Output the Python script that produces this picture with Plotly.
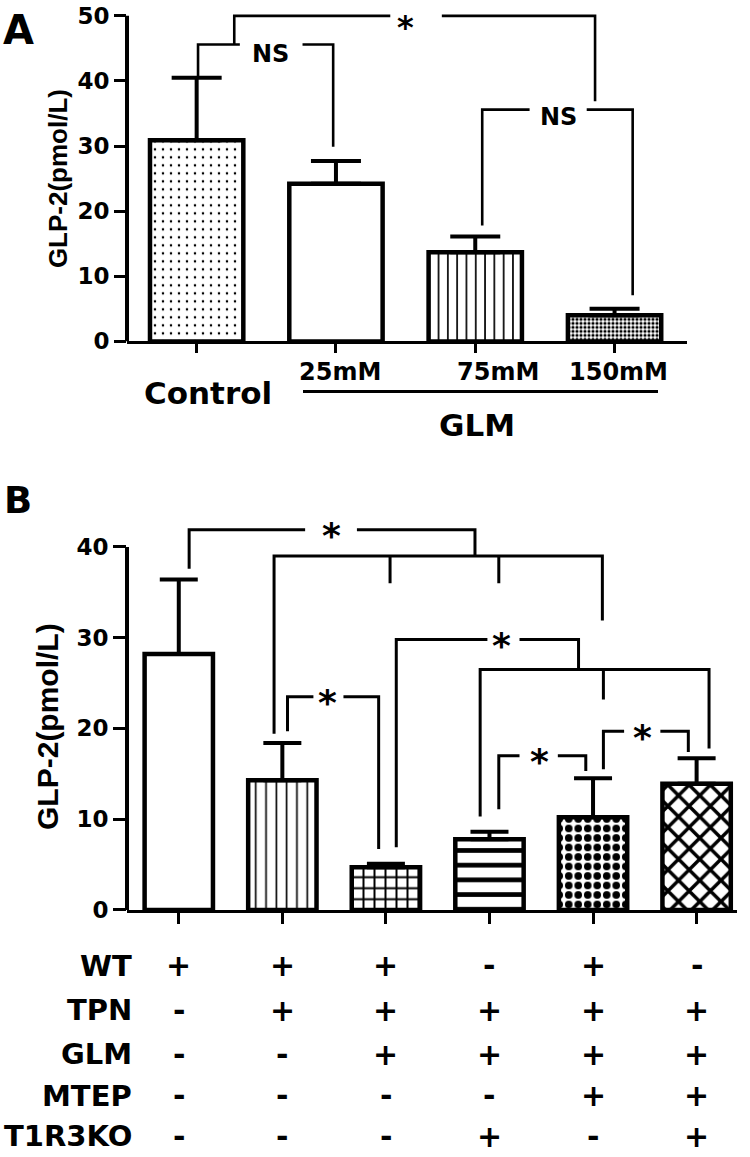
import plotly.graph_objects as go

# ---------------- data ----------------
a_categories = ["Control", "25mM", "75mM", "150mM"]
a_values = [30.9, 24.2, 13.7, 4.0]
a_err_upper = [9.6, 3.5, 2.4, 1.0]
a_group_label = "GLM"
a_yticks = [0, 10, 20, 30, 40, 50]

b_values = [28.2, 14.3, 4.7, 7.8, 10.2, 13.9]
b_err_upper = [8.2, 4.1, 0.4, 0.8, 4.3, 2.8]
b_yticks = [0, 10, 20, 30, 40]
b_row_labels = ["WT", "TPN", "GLM", "MTEP", "T1R3KO"]
b_row_signs = [
    ["+", "+", "+", "-", "+", "-"],
    ["-", "+", "+", "+", "+", "+"],
    ["-", "-", "+", "+", "+", "+"],
    ["-", "-", "-", "-", "+", "+"],
    ["-", "-", "-", "+", "-", "+"],
]
y_title = "GLP-2(pmol/L)"

# significance brackets: (y, x_left, leg_left, x_right, leg_right, gap, label, label_x, label_y, extra legs)
a_brackets = [
    (45.6, 0.01, 40.6, 0.98, 29.9, (0.31, 0.76), "NS", 0.53, 44.2, []),
    (50.0, 0.27, 45.6, 2.86, 36.9, (1.39, 1.76), "*", 1.50, None, []),
    (35.6, 2.05, 17.8, 3.13, 7.1, (2.39, 2.80), "NS", 2.60, 34.4, []),
]
b_brackets = [
    (39.0, 0.92, 19.4, 4.09, 31.9, None, "", 0, 0, [(2.04, 36.0), (3.09, 36.0)]),
    (41.9, 0.10, 37.6, 2.86, 39.0, (1.22, 1.72), "*", 1.47, 41.9, []),
    (26.5, 2.91, 10.3, 5.12, 17.8, None, "", 0, 0, [(4.10, 23.2)]),
    (29.8, 2.10, 6.9, 3.86, 26.5, (2.98, 3.29), "*", 3.12, 29.8, []),
    (23.5, 1.05, 19.7, 1.93, 6.7, (1.30, 1.59), "*", 1.44, 23.5, []),
    (17.0, 3.09, 11.1, 3.93, 15.3, (3.29, 3.66), "*", 3.48, 17.0, []),
    (19.7, 4.10, 15.5, 4.92, 17.4, (4.30, 4.65), "*", 4.48, 19.7, []),
]

# ---------------- layout helpers ----------------
W, H = 750, 1157
FONT = "DejaVu Sans"


def px(x):
    return x / W


def py(y):
    return 1 - y / H


def bold(size, family=FONT):
    return dict(family=family, size=size, color="black", weight="bold")


def bracket(xr, yr, spec, lw):
    y, xl, ll, xr_, lr, gap, label, lx, ly, extra = spec
    line = dict(color="black", width=lw)
    shapes = []
    if gap is None:
        shapes.append(dict(type="path", xref=xr, yref=yr, line=line,
                           path=f"M{xl},{ll} L{xl},{y} L{xr_},{y} L{xr_},{lr}"))
    else:
        shapes.append(dict(type="path", xref=xr, yref=yr, line=line,
                           path=f"M{xl},{ll} L{xl},{y} L{gap[0]},{y}"))
        shapes.append(dict(type="path", xref=xr, yref=yr, line=line,
                           path=f"M{gap[1]},{y} L{xr_},{y} L{xr_},{lr}"))
    for ex, ey in extra:
        shapes.append(dict(type="line", xref=xr, yref=yr, x0=ex, x1=ex, y0=y, y1=ey, line=line))
    return shapes


fig = go.Figure()

# Panel A bars
fig.add_trace(go.Bar(
    x=list(range(len(a_categories))), y=a_values, width=0.67,
    marker=dict(color="white", line=dict(color="black", width=4.5),
                pattern=dict(shape=[".", "", "|", "."], size=[8, 8, 9.3, 4],
                             solidity=[0.08, 0.1, 0.18, 0.5],
                             fgcolor="black", bgcolor="white", fgopacity=1,
                             fillmode="overlay")),
    error_y=dict(type="data", symmetric=False, array=a_err_upper,
                 arrayminus=[0] * len(a_values), color="black", thickness=4, width=25),
    xaxis="x", yaxis="y", showlegend=False, hoverinfo="skip"))

# Panel B bars
fig.add_trace(go.Bar(
    x=list(range(len(b_values))), y=b_values, width=0.66,
    marker=dict(color="white", line=dict(color="black", width=4.5),
                pattern=dict(shape=["", "|", "+", "-", ".", "x"],
                             size=[10, 10.3, 11, 14.7, 9.5, 15],
                             solidity=[0.1, 0.16, 0.33, 0.32, 0.5, 0.41],
                             fgcolor="black", bgcolor="white", fgopacity=1,
                             fillmode="overlay")),
    error_y=dict(type="data", symmetric=False, array=b_err_upper,
                 arrayminus=[0] * len(b_values), color="black", thickness=4, width=19),
    xaxis="x2", yaxis="y2", showlegend=False, hoverinfo="skip"))

shapes = []
annotations = []


def ann(**kw):
    d = dict(showarrow=False, xanchor="center", yanchor="middle")
    d.update(kw)
    annotations.append(d)


# y axis lines (stop at the top tick)
shapes.append(dict(type="line", xref="paper", yref="y", x0=px(127), x1=px(127),
                   y0=0, y1=a_yticks[-1], line=dict(color="black", width=4)))
shapes.append(dict(type="line", xref="paper", yref="y2", x0=px(127), x1=px(127),
                   y0=0, y1=b_yticks[-1], line=dict(color="black", width=4)))

for spec in a_brackets:
    shapes += bracket("x", "y", spec, 2.6)
    if spec[6] == "*":
        ann(xref="x", yref="paper", x=spec[7], y=py(0.5), yanchor="top", text="*", font=bold(32))
    elif spec[6]:
        ann(xref="x", yref="y", x=spec[7], y=spec[8], text=spec[6], font=bold(24))
for spec in b_brackets:
    shapes += bracket("x2", "y2", spec, 3)
    if spec[6]:
        ann(xref="x2", yref="y2", x=spec[7], y=spec[8], text=spec[6], yshift=-6, font=bold(36))

# Panel A category labels
a_label_pos = [(208, 393, 31), (340, 372, 24), (498, 372, 24), (618, 372, 24)]
for lab, (lx, ly, fs) in zip(a_categories, a_label_pos):
    ann(xref="paper", yref="paper", x=px(lx), y=py(ly), text=lab, font=bold(fs))
shapes.append(dict(type="line", xref="paper", yref="paper", x0=px(303), x1=px(658),
                   y0=py(392), y1=py(392), line=dict(color="black", width=3)))
ann(xref="paper", yref="paper", x=px(477), y=py(426), text=a_group_label, font=bold(31))

# Panel B table
row_y = [976, 1021, 1066, 1108, 1149]
for r, (lab, signs) in enumerate(zip(b_row_labels, b_row_signs)):
    ann(xref="paper", yref="paper", x=px(134), y=py(row_y[r]), text=lab,
        xanchor="right", font=bold(29))
    for c, s in enumerate(signs):
        ann(xref="x2", yref="paper", x=c, y=py(row_y[r]), text=s, font=bold(30))

# y titles
ann(xref="paper", yref="paper", x=px(58), y=py(176), text=y_title, textangle=-90,
    font=bold(26, "Liberation Sans"))
ann(xref="paper", yref="paper", x=px(48), y=py(733), text=y_title, textangle=-90,
    font=bold(30, "Liberation Sans"))

# panel letters
ann(xref="paper", yref="paper", x=px(18), y=py(24), text="A", font=bold(40))
ann(xref="paper", yref="paper", x=px(18), y=py(503), text="B", font=bold(37))

axis_common = dict(showgrid=False, zeroline=False, ticks="outside", tickcolor="black",
                   tickwidth=3, fixedrange=True, ticklabeloverflow="allow")

fig.update_layout(
    width=W, height=H, margin=dict(l=0, r=0, t=0, b=0),
    paper_bgcolor="white", plot_bgcolor="white", showlegend=False,
    xaxis=dict(domain=[px(127), px(687)], range=[-0.5, 3.52], anchor="y",
               showline=True, linecolor="black", linewidth=3, ticklen=9,
               tickvals=list(range(len(a_categories))), showticklabels=False, **axis_common),
    yaxis=dict(domain=[py(341), py(3.4)], range=[0, 51], anchor="x", showline=False,
               ticklen=12, tickvals=a_yticks, tickfont=bold(23), **axis_common),
    xaxis2=dict(domain=[px(127), px(737)], range=[-0.5, 5.39], anchor="y2",
                showline=True, linecolor="black", linewidth=3, ticklen=11,
                tickvals=list(range(len(b_values))), showticklabels=False, **axis_common),
    yaxis2=dict(domain=[py(919), py(522.3)], range=[0, 43], anchor="x2", showline=False,
                ticklen=13, tickvals=b_yticks, tickfont=bold(23), **axis_common),
    shapes=shapes, annotations=annotations,
)

fig.write_html("out.html", config={"displayModeBar": False},
               post_script="document.body.style.margin='0';")
